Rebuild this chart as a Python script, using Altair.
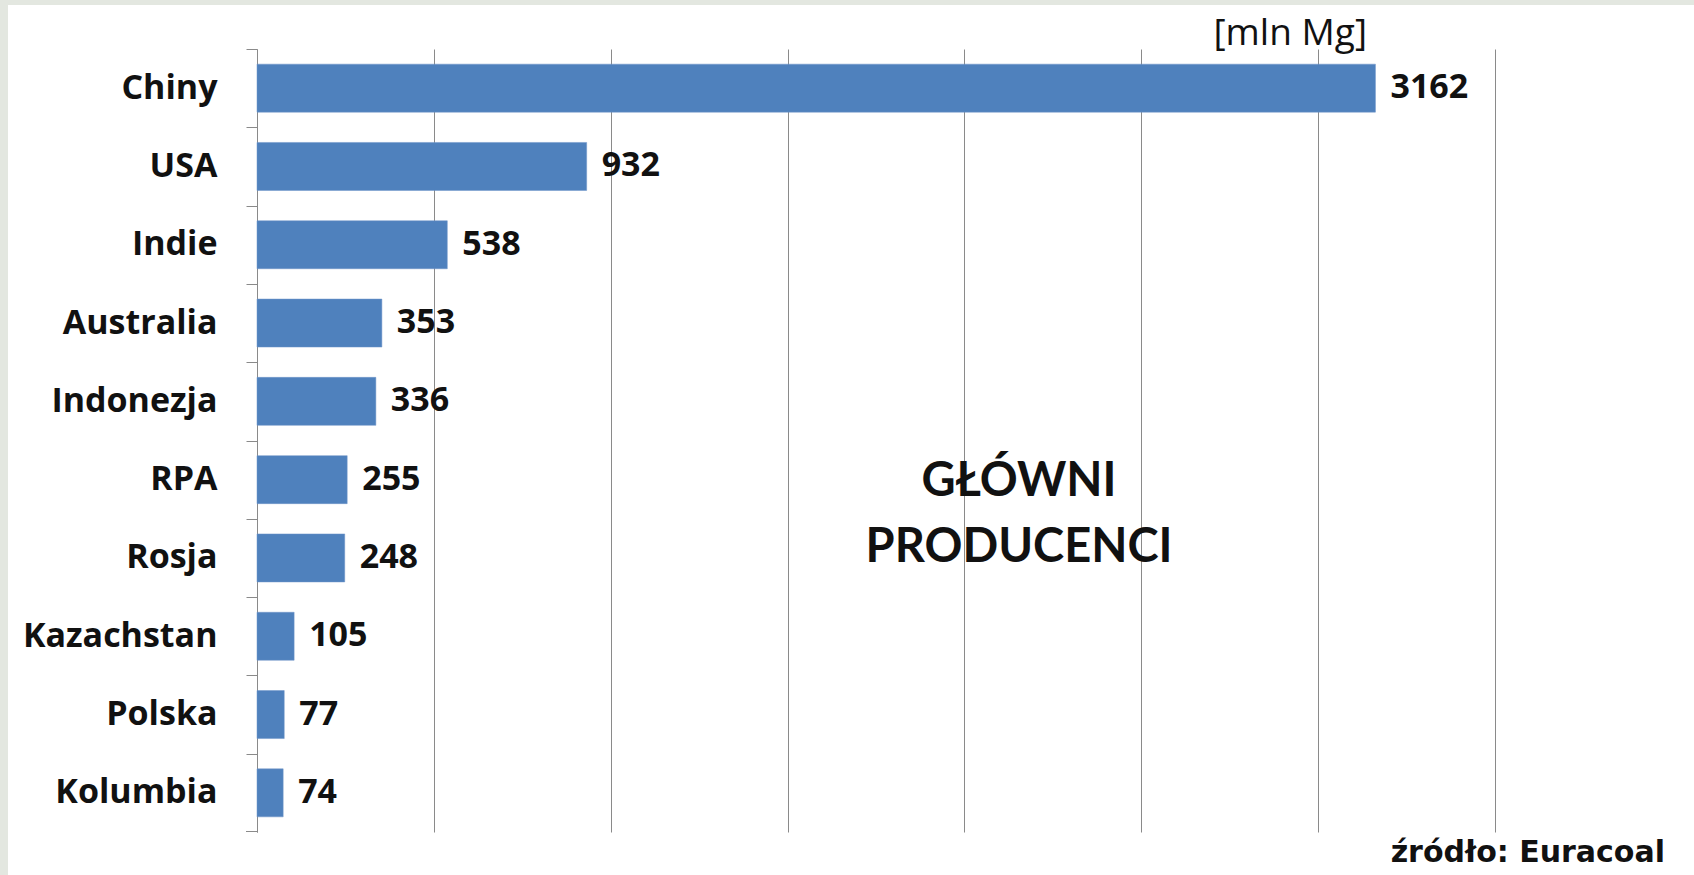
import altair as alt
import pandas as pd

countries = ["Chiny", "USA", "Indie", "Australia", "Indonezja", "RPA", "Rosja",
             "Kazachstan", "Polska", "Kolumbia"]
values = [3162, 932, 538, 353, 336, 255, 248, 105, 77, 74]
grid_ticks = [0, 500, 1000, 1500, 2000, 2500, 3000, 3500]
unit_label = "[mln Mg]"
title_lines = ["GŁÓWNI", "PRODUCENCI"]
source_label = "źródło: Euracoal"

df = pd.DataFrame({"kraj": countries, "wartosc": values})

W, H = 1238, 783
PAD_L, PAD_T = 257, 49
PAD_R = 1694 - PAD_L - W
PAD_B = 875 - PAD_T - H
STEP = H / len(countries)

BLUE = "#4f81bd"
GRID = "#8a8a8a"
FONT = "Open Sans"

y_enc = alt.Y(
    "kraj:N", sort=countries, title=None,
    scale=alt.Scale(paddingInner=0.387, paddingOuter=0.1935),
    axis=alt.Axis(
        labelFont=FONT, labelFontWeight="bold", labelFontSize=34, labelColor="#111111",
        tickColor=GRID, tickSize=11, tickOffset=-STEP / 2, labelOffset=STEP / 2,
        domainColor=GRID, labelPadding=29, labelLimit=400, grid=False,
    ),
)
x_enc = alt.X(
    "wartosc:Q", title=None,
    scale=alt.Scale(domain=[0, 3500], nice=False),
    axis=alt.Axis(values=grid_ticks, grid=True, gridColor=GRID, gridWidth=1,
                  labels=False, ticks=False, domain=False),
)

base = alt.Chart(df)
bars = base.mark_bar(color=BLUE, stroke="#6f95c8", strokeWidth=0.5).encode(x=x_enc, y=y_enc)
vals = base.mark_text(align="left", baseline="middle", dx=15, font=FONT,
                      fontWeight="bold", fontSize=34, color="#111111").encode(
    x="wartosc:Q", y=alt.Y("kraj:N", sort=countries), text="wartosc:Q")

one = pd.DataFrame({"a": [0]})
strip_left = alt.Chart(one).mark_rect(color="#e3e7e0").encode(
    x=alt.value(-PAD_L), x2=alt.value(-PAD_L + 8), y=alt.value(-PAD_T), y2=alt.value(H + PAD_B))
strip_top = alt.Chart(one).mark_rect(color="#e3e7e0").encode(
    x=alt.value(-PAD_L), x2=alt.value(W + PAD_R), y=alt.value(-PAD_T), y2=alt.value(-PAD_T + 5))
bottom_tick = alt.Chart(one).mark_rule(color=GRID, strokeWidth=1).encode(
    x=alt.value(-11), x2=alt.value(0), y=alt.value(H - 0.5))

unit = alt.Chart(pd.DataFrame({"t": [unit_label]})).mark_text(
    align="right", baseline="alphabetic", font=FONT, fontSize=37, color="#111111").encode(
    text="t:N", x=alt.value(1110), y=alt.value(-4))
t1 = alt.Chart(pd.DataFrame({"t": [title_lines[0]]})).mark_text(
    align="center", baseline="alphabetic", font="Lato", fontWeight="bold", fontSize=47,
    color="#111111").encode(text="t:N", x=alt.value(762), y=alt.value(447))
t2 = alt.Chart(pd.DataFrame({"t": [title_lines[1]]})).mark_text(
    align="center", baseline="alphabetic", font="Lato", fontWeight="bold", fontSize=47,
    color="#111111").encode(text="t:N", x=alt.value(762), y=alt.value(513))
src = alt.Chart(pd.DataFrame({"t": [source_label]})).mark_text(
    align="right", baseline="alphabetic", font="DejaVu Sans", fontWeight="bold",
    fontSize=30, color="#111111").encode(text="t:N", x=alt.value(1408), y=alt.value(813))

chart = alt.layer(strip_left, strip_top, bars, vals, bottom_tick, unit, t1, t2, src).properties(
    width=W, height=H,
    autosize=alt.AutoSizeParams(type="none"),
    padding={"left": PAD_L, "top": PAD_T, "right": PAD_R, "bottom": PAD_B},
    background="white",
).configure_view(stroke=None)

chart.save("out.html", embed_options={"renderer": "svg", "actions": False})
